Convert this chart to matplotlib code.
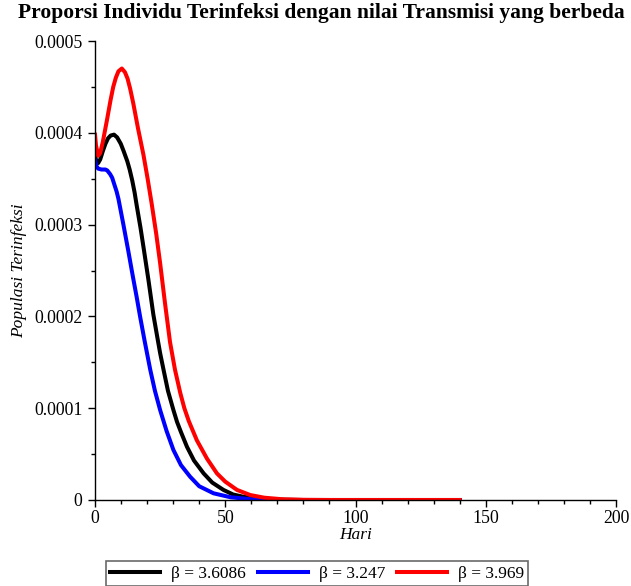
import matplotlib
matplotlib.use("Agg")
import matplotlib.pyplot as plt
from matplotlib.ticker import MultipleLocator, FixedLocator, FixedFormatter

# beta = 3.6086 (black), values in units of 1e-4
hari_hitam = [0, 0.5, 1.2, 2, 3, 4, 5, 6, 7.3, 8.5, 9.9, 11, 12.4, 13.3, 14.3, 15.2,
              16, 17.5, 18.8, 20.5, 22.4, 24, 25, 26.3, 28, 30.1, 31.5, 33, 35.3, 38,
              41.7, 45, 49.3, 53, 57, 62, 70, 80, 140]
inf_hitam = [3.76, 3.69, 3.67, 3.71, 3.80, 3.88, 3.94, 3.97, 3.98, 3.95, 3.88, 3.80,
             3.69, 3.60, 3.48, 3.35, 3.21, 2.96, 2.72, 2.40, 2.02, 1.76, 1.60, 1.42,
             1.19, 0.98, 0.85, 0.74, 0.58, 0.43, 0.29, 0.19, 0.11, 0.06, 0.035, 0.015,
             0.004, 0.0, 0.0]

# beta = 3.247 (blue)
hari_biru = [0, 0.5, 1.2, 2.5, 4, 4.7, 5.8, 6.6, 7.5, 8.3, 9, 10.9, 12.8, 14.5, 16,
             17.3, 19, 21.2, 23, 25, 27.5, 30.1, 33, 36.5, 40, 45.5, 52, 60, 70, 140]
inf_biru = [3.70, 3.64, 3.61, 3.60, 3.60, 3.59, 3.55, 3.51, 3.43, 3.36, 3.28, 3.00,
            2.71, 2.44, 2.21, 2.00, 1.74, 1.42, 1.19, 0.98, 0.75, 0.545, 0.38, 0.254,
            0.15, 0.073, 0.03, 0.008, 0.0, 0.0]

# beta = 3.969 (red)
hari_merah = [0, 0.4, 1.2, 2, 3, 4.6, 6, 7, 8, 9, 10.3, 11.5, 12.5, 13.5, 14.7, 16.5,
              18.6, 20.2, 21.8, 23.5, 25, 26.8, 28.8, 30.7, 32.7, 34.3, 36, 39.1, 43,
              46.8, 50, 54.5, 59.6, 65, 72, 80, 90, 140]
inf_merah = [3.98, 3.86, 3.75, 3.78, 3.90, 4.14, 4.36, 4.50, 4.60, 4.67, 4.70, 4.66,
             4.59, 4.48, 4.32, 4.05, 3.76, 3.50, 3.22, 2.90, 2.58, 2.16, 1.72, 1.42,
             1.17, 1.00, 0.86, 0.65, 0.45, 0.29, 0.20, 0.11, 0.054, 0.025, 0.008,
             0.002, 0.0, 0.0]

series = [
    (hari_hitam, inf_hitam, "black", "β = 3.6086"),
    (hari_biru, inf_biru, "blue", "β = 3.247"),
    (hari_merah, inf_merah, "red", "β = 3.969"),
]

y_ticks = [0, 0.0001, 0.0002, 0.0003, 0.0004, 0.0005]
y_labels = ["0", "0.0001", "0.0002", "0.0003", "0.0004", "0.0005"]
x_ticks = [0, 50, 100, 150, 200]

plt.rcParams["font.family"] = ["Liberation Serif", "DejaVu Serif"]

fig = plt.figure(figsize=(6.31, 5.86), dpi=100)
ax = fig.add_axes([95 / 631, 86 / 586, 521 / 631, 459 / 586])

for hari, inf, warna, label in series:
    ax.plot(hari, [v * 1e-4 for v in inf], color=warna, linewidth=2.9, label=label,
            solid_joinstyle="round")

ax.set_xlim(0, 200)
ax.set_ylim(0, 0.0005)
ax.spines["top"].set_visible(False)
ax.spines["right"].set_visible(False)
ax.spines["left"].set_linewidth(1.0)
ax.spines["bottom"].set_linewidth(1.0)

ax.xaxis.set_major_locator(FixedLocator(x_ticks))
ax.xaxis.set_minor_locator(MultipleLocator(10))
ax.yaxis.set_major_locator(FixedLocator(y_ticks))
ax.yaxis.set_major_formatter(FixedFormatter(y_labels))
ax.yaxis.set_minor_locator(MultipleLocator(0.00005))
ax.tick_params(which="major", length=5, width=1, labelsize=12.8)
ax.tick_params(axis="y", which="major", pad=4)
ax.tick_params(axis="x", which="major", pad=2)
ax.tick_params(which="minor", length=3, width=1)

ax.set_xlabel("Hari", fontsize=12.5, style="italic", labelpad=0)
ax.set_ylabel("Populasi Terinfeksi", fontsize=12.5, style="italic", labelpad=5)
fig.suptitle("Proporsi Individu Terinfeksi dengan nilai Transmisi yang berbeda",
             fontsize=15.5, fontweight="bold", x=0.51, y=0.995)

leg = ax.legend(loc="upper center", bbox_to_anchor=(222 / 521, -0.115), ncol=3,
                fontsize=12.5, frameon=True, fancybox=False, edgecolor="#444444",
                handlelength=2.9, columnspacing=0.7, handletextpad=0.6,
                borderpad=0.25)
leg.get_frame().set_linewidth(1.2)

fig.savefig("out.png", dpi=100)
